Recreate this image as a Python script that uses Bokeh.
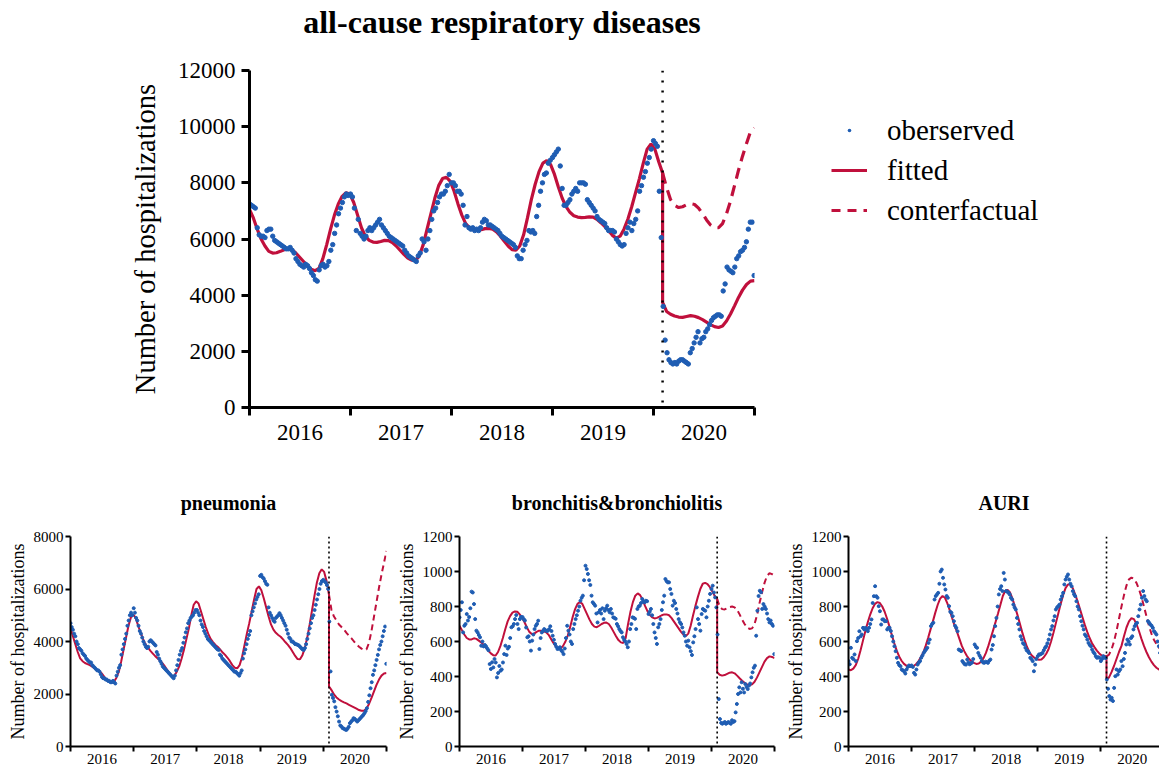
import numpy as np
from bokeh.plotting import figure
from bokeh.models import Range1d, FixedTicker, Span, Legend, LegendItem, Title
from bokeh.layouts import column, row
from bokeh.embed import file_html
from bokeh.resources import INLINE

FONT = "Liberation Serif"
BLUE = "#1f5db3"
RED = "#c0103c"

YEARS = [2016, 2017, 2018, 2019, 2020]
YEAR_LABELS = ["2016", "2017", "2018", "2019", "2020"]
BREAK = 2020.09  # start of the intervention (dotted line)

# ---------------- all-cause respiratory diseases ----------------
MAIN_OBS_2016 = [7250, 7200, 7150, 7100, 6400, 6150, 6100, 6100, 6050, 6300, 6350, 6350, 6100, 5950, 5900, 5850, 5800, 5750, 5700, 5650, 5650, 5700, 5600, 5500, 5300, 5200, 5100, 5050, 5000, 5100, 5050, 4950, 4800, 4700, 4550, 4500, 4900, 5050, 5100, 5000, 5050, 5200, 5600, 5800, 6200, 6500, 6900, 7100, 7300, 7500, 7600, 7550]
MAIN_OBS_2017 = [7600, 7500, 7100, 6300, 6700, 6200, 6100, 6000, 6100, 6300, 6400, 6300, 6400, 6500, 6600, 6700, 6500, 6400, 6300, 6200, 6100, 6050, 6000, 5950, 5900, 5850, 5800, 5750, 5600, 5500, 5400, 5350, 5300, 5250, 5200, 5400, 5500, 6000, 5900, 5600, 6000, 6300, 6700, 7000, 7100, 7300, 7500, 7600, 7600, 7700, 7900, 8300]
MAIN_OBS_2018 = [8000, 8000, 7900, 7700, 7700, 7600, 7200, 6500, 6800, 6400, 6350, 6400, 6300, 6350, 6300, 6400, 6600, 6700, 6650, 6500, 6500, 6450, 6400, 6350, 6300, 6200, 6100, 6050, 6000, 5950, 5900, 5850, 5800, 5700, 5400, 5300, 5300, 5600, 5800, 5950, 6300, 6250, 6300, 6200, 6800, 7200, 7700, 8000, 8300, 8350, 8700, 8800]
MAIN_OBS_2019 = [8900, 9000, 9100, 9200, 8600, 7800, 7200, 7200, 7300, 7400, 7600, 7700, 7800, 7700, 8000, 8000, 8000, 7950, 7400, 7300, 7200, 7100, 7000, 6800, 6700, 6650, 6600, 6550, 6400, 6300, 6300, 6300, 6250, 6000, 5900, 5800, 5750, 5800, 6200, 6400, 6600, 6300, 6550, 6700, 7000, 7700, 7900, 8200, 8400, 8700, 8900, 9200]
MAIN_OBS_2020 = [9500, 9400, 9300, 7700, 6050, 3600, 2400, 1950, 1700, 1600, 1550, 1600, 1550, 1650, 1700, 1700, 1650, 1600, 1550, 1950, 2100, 2300, 2500, 2700, 2300, 2450, 2500, 2700, 2800, 2950, 3100, 3200, 3250, 3300, 3300, 3250, 4150, 4400, 5000, 4900, 4850, 4800, 5000, 5300, 5400, 5550, 5600, 5700, 5900, 6350, 6600, 6600, 4700]
# fitted: every ~2 weeks from Jan 2016 up to the break, then from the break to the end of 2020
MAIN_FIT_PRE = [7050, 6750, 6350, 6000, 5750, 5560, 5500, 5510, 5560, 5620,
                5650, 5620, 5500, 5350, 5200, 5050, 4920, 4870, 4950, 5300,
                5800, 6350, 6850, 7250, 7520, 7650, 7600, 7300, 6850, 6400,
                6100, 5950, 5890, 5880, 5910, 5950, 5940, 5870, 5750, 5600,
                5450, 5320, 5250, 5240, 5400, 5800, 6350, 6900, 7450, 7900,
                8150, 8200, 8050, 7700, 7250, 6850, 6550, 6400, 6330, 6310,
                6330, 6370, 6380, 6350, 6250, 6100, 5920, 5750, 5620, 5600,
                5750, 6150, 6750, 7400, 7950, 8400, 8700, 8790, 8650, 8300,
                7850, 7450, 7150, 6950, 6830, 6780, 6760, 6770, 6790, 6780,
                6700, 6580, 6450, 6300, 6130, 6030, 6100, 6350, 6700, 7150,
                7650, 8150, 8700, 9200, 9380, 9200, 8750, 8350]
MAIN_FIT_POST = [3740, 3420, 3320, 3260, 3220, 3210, 3240, 3270, 3250, 3200, 3130, 3040, 2950, 2880, 2850, 2900, 3080, 3330, 3620, 3920, 4180, 4380, 4500, 4520]
MAIN_CF = [8350, 7830, 7400, 7200, 7120, 7150, 7220, 7260, 7230, 7100, 6900, 6680, 6500, 6400, 6400, 6550, 6900, 7350, 7900, 8450, 8950, 9400, 9820, 9950]

# ---------------- pneumonia ----------------
PNEU_OBS_2016 = [4700, 4550, 4450, 4300, 4200, 4000, 3900, 3750, 3700, 3650, 3550, 3500, 3450, 3350, 3300, 3250, 3200, 3200, 3100, 3050, 3000, 2950, 2900, 2900, 2850, 2750, 2650, 2600, 2600, 2550, 2550, 2500, 2500, 2450, 2450, 2500, 2450, 2400, 2700, 2850, 3000, 3100, 3500, 3700, 3900, 4100, 4300, 4600, 4800, 5000, 5100, 5000]
PNEU_OBS_2017 = [5270, 5100, 4900, 4800, 4600, 4400, 4300, 4150, 4000, 3900, 3800, 3750, 3800, 4000, 4050, 4000, 3950, 3900, 3850, 3600, 3500, 3350, 3250, 3150, 3050, 3000, 2950, 2900, 2850, 2800, 2750, 2700, 2650, 2600, 2700, 2900, 3100, 3300, 3500, 3650, 3750, 3950, 4150, 4350, 4500, 4700, 4800, 4900, 4950, 5000, 5100, 5200]
PNEU_OBS_2018 = [5200, 5100, 5000, 4800, 4650, 4550, 4400, 4300, 4200, 4100, 4050, 4000, 3950, 3900, 3850, 3800, 3750, 3700, 3680, 3500, 3450, 3350, 3300, 3250, 3200, 3150, 3100, 3050, 3000, 2950, 2900, 2850, 2850, 2800, 2750, 2700, 2800, 2900, 3350, 3550, 3700, 3900, 4100, 4250, 4400, 5000, 5150, 5300, 5450, 5600, 5700, 5800]
PNEU_OBS_2019 = [6500, 6540, 6450, 6400, 6300, 6200, 6160, 5300, 5100, 5000, 4900, 4800, 4750, 4900, 4950, 5000, 5080, 5000, 4900, 4800, 4700, 4600, 4450, 4300, 4150, 4100, 4000, 4000, 3950, 3900, 3900, 3870, 3850, 3800, 3750, 3700, 3680, 3750, 3900, 4100, 4300, 4500, 4700, 4900, 5000, 5200, 5400, 5600, 5800, 6000, 6200, 6300]
PNEU_OBS_2020 = [6350, 6300, 6250, 6150, 6000, 4760, 2860, 1970, 1850, 1720, 1500, 1330, 1150, 950, 800, 760, 700, 680, 650, 630, 680, 750, 890, 950, 1000, 1080, 1050, 1000, 950, 1000, 1050, 1100, 1150, 1200, 1270, 1350, 1460, 1700, 1950, 2220, 2450, 2730, 2900, 3100, 3300, 3490, 3700, 3870, 4000, 4200, 4400, 4570, 3150]
PNEU_FIT_PRE = [4510, 4200, 3900, 3600, 3360, 3250, 3180, 3140, 3100, 3040,
                2970, 2900, 2860, 2780, 2650, 2530, 2470, 2450, 2470, 2620,
                2850, 3250, 3700, 4150, 4600, 4920, 5030, 4900, 4600, 4350,
                4100, 3900, 3780, 3650, 3550, 3450, 3360, 3280, 3180, 3060,
                2920, 2760, 2670, 2700, 2850, 3050, 3350, 3700, 4100, 4500,
                5000, 5400, 5530, 5450, 5150, 4850, 4550, 4300, 4100, 3980,
                3870, 3790, 3690, 3580, 3490, 3380, 3250, 3100, 3000, 2980,
                3100, 3400, 3850, 4300, 4700, 5150, 5600, 6000, 6100, 5950,
                5650, 5300, 4950, 4650, 4450, 4330, 4250, 4180, 4080, 3970,
                3870, 3750, 3600, 3450, 3330, 3320, 3480, 3750, 4150, 4650,
                5200, 5750, 6250, 6600, 6750, 6650, 6300, 5780]
PNEU_FIT_POST = [2290, 2150, 1980, 1870, 1790, 1730, 1680, 1640, 1590, 1540, 1490, 1440, 1390, 1360, 1360, 1450, 1620, 1850, 2100, 2350, 2550, 2700, 2780, 2800]
PNEU_CF = [5780, 5200, 4950, 4800, 4650, 4550, 4450, 4330, 4220, 4120, 4000, 3900, 3800, 3730, 3680, 3700, 3950, 4400, 4950, 5500, 6050, 6550, 7000, 7450]

# ---------------- bronchitis & bronchiolitis ----------------
BRON_OBS_2016 = [738, 780, 824, 652, 690, 700, 757, 720, 740, 790, 885, 880, 814, 728, 662, 652, 637, 624, 576, 600, 572, 580, 572, 560, 550, 471, 443, 481, 452, 500, 480, 395, 420, 460, 433, 440, 480, 528, 576, 523, 560, 570, 620, 681, 687, 700, 728, 751, 700, 671, 728, 740]
BRON_OBS_2017 = [740, 728, 720, 680, 624, 630, 600, 548, 605, 640, 671, 690, 700, 719, 557, 620, 652, 660, 671, 665, 660, 662, 670, 687, 660, 633, 610, 586, 570, 557, 560, 567, 550, 542, 528, 560, 620, 690, 662, 640, 600, 586, 671, 700, 728, 750, 776, 800, 833, 850, 862, 950]
BRON_OBS_2018 = [1033, 1014, 986, 950, 923, 862, 824, 815, 805, 760, 709, 767, 780, 760, 790, 728, 776, 790, 805, 780, 767, 786, 760, 738, 735, 730, 700, 687, 671, 660, 652, 624, 610, 600, 586, 567, 600, 671, 700, 738, 735, 730, 671, 786, 800, 805, 820, 843, 830, 824, 833, 830]
BRON_OBS_2019 = [757, 770, 786, 750, 700, 652, 620, 586, 681, 700, 728, 780, 824, 862, 957, 945, 938, 938, 900, 872, 805, 833, 820, 786, 760, 728, 710, 700, 680, 652, 633, 600, 576, 605, 567, 545, 523, 595, 630, 671, 795, 728, 700, 662, 757, 786, 780, 776, 738, 800, 833, 872]
BRON_OBS_2020 = [900, 919, 880, 852, 795, 640, 271, 157, 135, 130, 135, 140, 130, 135, 140, 135, 130, 150, 140, 145, 195, 243, 300, 338, 309, 367, 330, 309, 357, 340, 328, 348, 360, 395, 424, 450, 462, 633, 776, 860, 890, 881, 786, 814, 800, 786, 760, 728, 709, 720, 700, 690, 528]
BRON_FIT_PRE = [690, 665, 640, 620, 612, 612, 618, 615, 605, 595,
                582, 565, 548, 532, 522, 520, 540, 575, 620, 670,
                715, 745, 765, 772, 770, 755, 735, 710, 680, 655,
                643, 645, 655, 662, 662, 658, 652, 638, 615, 592,
                572, 560, 560, 575, 600, 635, 685, 740, 785, 815,
                825, 815, 785, 755, 725, 700, 685, 682, 690, 700,
                707, 708, 700, 680, 655, 630, 608, 595, 592, 620,
                700, 770, 825, 862, 875, 865, 840, 805, 775, 752,
                738, 732, 735, 742, 750, 755, 755, 750, 735, 715,
                695, 675, 655, 640, 632, 645, 690, 750, 805, 855,
                900, 930, 935, 928, 910, 885, 860, 843]
BRON_FIT_POST = [424, 410, 405, 408, 415, 422, 424, 418, 405, 390, 376, 364, 355, 350, 355, 370, 395, 425, 455, 485, 505, 515, 512, 505]
BRON_CF = [843, 800, 785, 783, 790, 797, 800, 795, 780, 755, 725, 700, 680, 672, 675, 700, 750, 820, 880, 935, 975, 990, 985, 975]

# ---------------- AURI ----------------
AURI_OBS_2016 = [488, 470, 564, 507, 500, 526, 488, 602, 620, 659, 630, 640, 678, 669, 678, 670, 659, 678, 700, 726, 820, 859, 916, 859, 850, 802, 773, 697, 726, 726, 716, 716, 669, 678, 678, 660, 630, 600, 573, 545, 507, 478, 465, 459, 440, 435, 430, 417, 440, 455, 463, 460]
AURI_OBS_2017 = [463, 455, 421, 411, 440, 468, 480, 488, 507, 520, 535, 545, 555, 564, 592, 611, 688, 700, 707, 840, 860, 869, 878, 930, 1000, 1011, 964, 926, 897, 860, 850, 802, 770, 764, 745, 716, 690, 678, 659, 554, 550, 545, 488, 478, 470, 468, 497, 480, 470, 475, 480, 500]
AURI_OBS_2018 = [583, 570, 564, 535, 520, 507, 488, 480, 478, 485, 482, 478, 490, 497, 554, 580, 630, 688, 735, 800, 869, 900, 916, 888, 992, 954, 888, 885, 878, 869, 850, 840, 811, 795, 783, 735, 700, 669, 630, 611, 590, 583, 564, 550, 545, 535, 507, 500, 488, 430, 468, 500]
AURI_OBS_2019 = [516, 526, 526, 530, 535, 550, 564, 573, 590, 611, 640, 669, 688, 720, 745, 783, 795, 802, 811, 840, 859, 878, 926, 954, 970, 983, 954, 930, 916, 888, 870, 859, 830, 800, 783, 745, 716, 690, 669, 640, 630, 611, 592, 580, 573, 554, 540, 531, 516, 507, 510, 507]
AURI_OBS_2020 = [488, 500, 516, 510, 505, 383, 330, 288, 268, 278, 260, 335, 402, 440, 411, 430, 440, 488, 459, 500, 535, 583, 611, 600, 583, 620, 630, 669, 688, 700, 707, 745, 783, 811, 850, 888, 860, 840, 830, 716, 707, 697, 690, 678, 659, 650, 640, 600, 573, 535, 520, 510, 500]
AURI_FIT_PRE = [440, 436, 445, 465, 500, 550, 605, 660, 710, 754,
                790, 815, 825, 820, 800, 770, 730, 685, 635, 590,
                548, 515, 490, 472, 462, 457, 456, 460, 470, 487,
                510, 537, 575, 620, 668, 715, 765, 810, 845, 860,
                850, 818, 778, 733, 690, 655, 615, 575, 545, 520,
                500, 487, 478, 472, 474, 485, 505, 535, 575, 620,
                665, 712, 760, 810, 860, 890, 895, 880, 845, 800,
                755, 705, 655, 610, 570, 540, 520, 508, 500, 496,
                497, 510, 530, 557, 600, 650, 705, 760, 815, 865,
                905, 926, 925, 905, 870, 830, 785, 740, 695, 655,
                620, 590, 568, 548, 532, 520, 518, 515]
AURI_FIT_POST = [383, 395, 425, 460, 500, 540, 575, 630, 680, 715, 733, 728, 700, 660, 615, 575, 540, 510, 485, 465, 450, 440, 435, 433]
AURI_CF = [515, 525, 554, 600, 660, 730, 800, 865, 920, 955, 965, 958, 935, 900, 855, 800, 745, 690, 645, 610, 585, 565, 550, 540]

LEGEND_LABELS = ["oberserved", "fitted", "conterfactual"]


def obs_xy(year_lists):
    xs, ys = [], []
    for yr, vals in zip(YEARS, year_lists):
        for i, v in enumerate(vals):
            xs.append(yr + i * 7 / 365.25)
            ys.append(v)
    return xs, ys


def fit_xy(pre, post):
    xs = list(np.linspace(2016, BREAK, len(pre))) + list(np.linspace(BREAK, 2021, len(post)))
    return xs, list(pre) + list(post)


def cf_xy(cf):
    return list(np.linspace(BREAK, 2021, len(cf))), list(cf)


def build_panel(title, obs, pre, post, cf, ymax, ystep, width, height, bl, br, bt, bb, x_end,
                big):
    p = figure(width=width, height=height, x_range=Range1d(2016, x_end),
               y_range=Range1d(0, ymax), min_border_left=bl, min_border_right=br,
               min_border_top=bt, min_border_bottom=bb, output_backend="svg",
               toolbar_location=None, title=title)
    p.outline_line_color = None
    p.grid.visible = False
    p.background_fill_color = "white"
    p.border_fill_color = "white"

    p.title.text_font = FONT
    p.title.text_font_style = "bold"
    p.title.text_color = "black"
    p.title.align = "center"
    p.title.text_font_size = "32px" if big else "20px"
    p.title.standoff = 0 if big else 46

    lw_axis = 3 if big else 2
    ya = p.yaxis[0]
    ya.ticker = FixedTicker(ticks=list(range(0, ymax + 1, ystep)))
    ya.axis_line_width = lw_axis
    ya.major_tick_line_width = lw_axis
    ya.major_tick_in = 0
    ya.major_tick_out = 8 if big else 5
    ya.minor_tick_line_color = None
    ya.major_label_text_font = FONT
    ya.major_label_text_font_size = "23px" if big else "15px"
    ya.major_label_text_color = "black"
    ya.major_label_standoff = 6 if big else 2
    ya.axis_label = "Number of hospitalizations"
    ya.axis_label_text_font = FONT
    ya.axis_label_text_font_style = "normal"
    ya.axis_label_text_font_size = "28.5px" if big else "18px"
    ya.axis_label_text_color = "black"
    ya.axis_label_standoff = 14 if big else 3

    xa = p.xaxis[0]
    mids = [y + 0.5 for y in YEARS]
    xa.ticker = FixedTicker(ticks=mids, minor_ticks=YEARS + [2021])
    xa.major_label_overrides = {m: lab for m, lab in zip(mids, YEAR_LABELS)}
    xa.axis_line_width = lw_axis
    xa.major_tick_line_color = None
    xa.major_tick_out = 0
    xa.major_tick_in = 0
    xa.minor_tick_line_color = "black"
    xa.minor_tick_line_width = lw_axis
    xa.minor_tick_in = 0
    xa.minor_tick_out = 8 if big else 5
    xa.major_label_text_font = FONT
    xa.major_label_text_font_size = "23px" if big else "15px"
    xa.major_label_text_color = "black"
    xa.major_label_standoff = 9 if big else 2

    ox, oy = obs_xy(obs)
    fx, fy = fit_xy(pre, post)
    cx, cy = cf_xy(cf)
    p.line(cx, cy, line_color=RED, line_width=3.2 if big else 2.0,
           line_dash="11 7" if big else "6 4")
    p.line(fx, fy, line_color=RED, line_width=3.2 if big else 2.0)
    p.scatter(ox, oy, size=4.4 if big else 3.0, color=BLUE, marker="circle")
    p.add_layout(Span(location=BREAK, dimension="height", line_color="black",
                      line_width=2.5 if big else 1.6,
                      line_dash="2 8" if big else "2 3"))
    return p


main = build_panel("all-cause respiratory diseases",
                   [MAIN_OBS_2016, MAIN_OBS_2017, MAIN_OBS_2018, MAIN_OBS_2019, MAIN_OBS_2020],
                   MAIN_FIT_PRE, MAIN_FIT_POST, MAIN_CF, 12000, 2000,
                   760, 457, 249, 6, 70, 50, 2021, True)
# spacer between the frame and the main title
main.add_layout(Title(text=" ", text_font_size="2px", standoff=27), "above")

# legend panel (its own frame is aligned with the main frame by the row layout)
lf = figure(width=399, height=457, x_range=Range1d(0, 1), y_range=Range1d(0, 1),
            min_border=0, x_axis_type=None, y_axis_type=None,
            output_backend="svg", toolbar_location=None)
lf.outline_line_color = None
lf.grid.visible = False
nan = [np.nan]
r_obs = lf.scatter(nan, nan, size=4.4, color=BLUE, marker="dot")
r_fit = lf.line(nan, nan, line_color=RED, line_width=3.2)
r_cf = lf.line(nan, nan, line_color=RED, line_width=3.2, line_dash="9 7")
leg = Legend(items=[LegendItem(label=lab, renderers=[r])
                    for lab, r in zip(LEGEND_LABELS, (r_obs, r_fit, r_cf))],
             location=(71, 178), padding=0, margin=0, spacing=2,
             glyph_width=36, glyph_height=38, label_height=38,
             label_standoff=20, border_line_color=None,
             background_fill_alpha=0, label_text_font=FONT,
             label_text_font_size="29px", label_text_color="black")
lf.add_layout(leg)

p1 = build_panel("pneumonia",
                 [PNEU_OBS_2016, PNEU_OBS_2017, PNEU_OBS_2018, PNEU_OBS_2019, PNEU_OBS_2020],
                 PNEU_FIT_PRE, PNEU_FIT_POST, PNEU_CF, 8000, 2000,
                 389, 310, 70, 3, 79, 21, 2021, False)
p2 = build_panel("bronchitis&bronchiolitis",
                 [BRON_OBS_2016, BRON_OBS_2017, BRON_OBS_2018, BRON_OBS_2019, BRON_OBS_2020],
                 BRON_FIT_PRE, BRON_FIT_POST, BRON_CF, 1200, 200,
                 389, 310, 70, 4, 79, 21, 2021, False)
p3 = build_panel("AURI",
                 [AURI_OBS_2016, AURI_OBS_2017, AURI_OBS_2018, AURI_OBS_2019, AURI_OBS_2020],
                 AURI_FIT_PRE, AURI_FIT_POST, AURI_CF, 1200, 200,
                 381, 310, 70, 0, 79, 21, 2020.93, False)

layout = column(row(main, lf), row(p1, p2, p3))
open("out.html", "w").write(file_html(layout, INLINE))
